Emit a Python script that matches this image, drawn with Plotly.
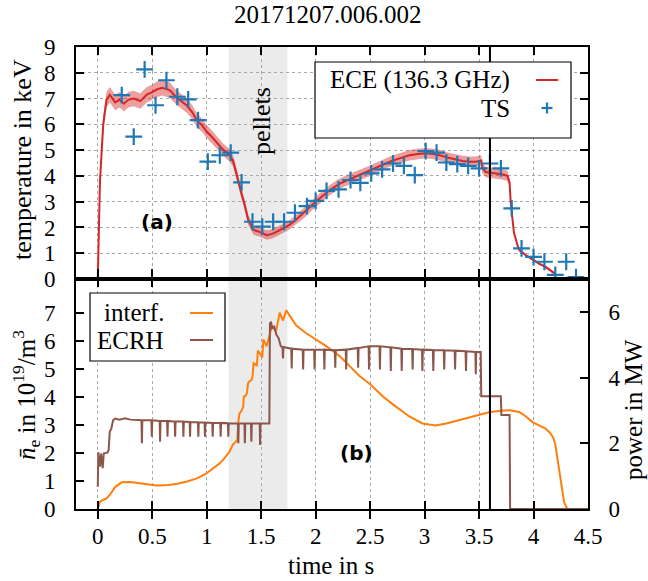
import plotly.graph_objects as go

# ---------------- data ----------------
title_text = "20171207.006.002"

ece_t = [0.0, 0.02, 0.05, 0.08, 0.11, 0.16, 0.2, 0.24, 0.28, 0.33,
         0.39, 0.45, 0.5, 0.54, 0.59, 0.66, 0.72, 0.78, 0.82, 0.87,
         0.91, 0.96, 1.0, 1.05, 1.09, 1.15, 1.21, 1.24, 1.26, 1.29,
         1.32, 1.35, 1.38, 1.43, 1.49, 1.55, 1.6, 1.64, 1.7, 1.76,
         1.82, 1.89, 1.95, 2.0, 2.07, 2.13, 2.22, 2.31, 2.4, 2.5,
         2.59, 2.68, 2.77, 2.86, 2.94, 3.01, 3.08, 3.14, 3.22, 3.29,
         3.35, 3.41, 3.47, 3.52, 3.53, 3.56, 3.61, 3.66, 3.72, 3.76,
         3.78, 3.79, 3.81, 3.82, 3.85, 3.87, 3.93, 3.99, 4.05, 4.11,
         4.16, 4.2]
ece_v = [0.0, 3.8, 6.0, 6.95, 7.15, 6.85, 6.95, 6.8, 6.95, 7.0,
         6.9, 7.15, 7.25, 7.35, 7.42, 7.33, 7.05, 6.85, 6.72, 6.45,
         6.15, 5.95, 5.72, 5.5, 5.3, 5.02, 4.8, 4.6, 4.3, 3.75,
         3.3, 2.85, 2.3, 1.9, 1.82, 1.7, 1.75, 1.83, 1.95, 2.1,
         2.3, 2.55, 2.8, 3.0, 3.25, 3.45, 3.7, 3.87, 4.02, 4.2,
         4.38, 4.55, 4.68, 4.8, 4.85, 4.88, 4.85, 4.8, 4.7, 4.62,
         4.58, 4.55, 4.55, 4.6, 4.3, 4.15, 4.12, 4.1, 4.05, 4.0,
         3.75, 3.0, 2.2, 1.8, 1.35, 1.12, 0.92, 0.75, 0.6, 0.47,
         0.33, 0.2]
ece_err = [0.0, 0.2, 0.3, 0.3, 0.3, 0.3, 0.3, 0.3, 0.3, 0.3,
           0.3, 0.3, 0.3, 0.3, 0.3, 0.3, 0.28, 0.28, 0.28, 0.27,
           0.27, 0.26, 0.25, 0.25, 0.25, 0.24, 0.24, 0.22, 0.22, 0.2,
           0.2, 0.2, 0.2, 0.18, 0.18, 0.18, 0.18, 0.18, 0.18, 0.18,
           0.18, 0.2, 0.2, 0.2, 0.2, 0.2, 0.2, 0.2, 0.2, 0.2,
           0.2, 0.2, 0.2, 0.2, 0.2, 0.2, 0.2, 0.2, 0.2, 0.2,
           0.2, 0.2, 0.2, 0.2, 0.2, 0.2, 0.2, 0.2, 0.2, 0.2,
           0.15, 0.1, 0.08, 0.06, 0.05, 0.05, 0.05, 0.05, 0.05, 0.05,
           0.05, 0.05]

ts_t = [0.22, 0.33, 0.43, 0.53, 0.63, 0.73, 0.83, 0.92, 1.01, 1.12,
        1.22, 1.32, 1.42, 1.51, 1.61, 1.71, 1.81, 1.92, 2.0, 2.1,
        2.21, 2.32, 2.41, 2.51, 2.61, 2.71, 2.81, 2.91, 3.01, 3.11,
        3.2, 3.3, 3.4, 3.5, 3.6, 3.7, 3.8, 3.89, 4.0, 4.1,
        4.2, 4.3, 4.39]
ts_v = [7.13, 5.52, 8.13, 6.74, 7.71, 7.07, 6.97, 6.16, 4.55, 4.8,
        4.9, 3.75, 2.22, 2.03, 2.22, 2.22, 2.57, 2.83, 3.03, 3.42,
        3.48, 3.84, 3.73, 4.1, 4.25, 4.48, 4.39, 4.03, 4.96, 4.9,
        4.52, 4.46, 4.39, 4.29, 4.48, 4.29, 2.74, 1.19, 0.86, 0.67,
        0.16, 0.67, 0.07]

ne_t = [0.0, 0.02, 0.05, 0.08, 0.11, 0.16, 0.22, 0.3, 0.42, 0.54,
        0.65, 0.73, 0.82, 0.91, 0.99, 1.06, 1.11, 1.15, 1.19, 1.21,
        1.24, 1.27, 1.28, 1.29, 1.3, 1.32, 1.335, 1.34, 1.36, 1.37,
        1.38, 1.39, 1.41, 1.42, 1.43, 1.45, 1.46, 1.47, 1.49, 1.51,
        1.52, 1.54, 1.55, 1.57, 1.6, 1.63, 1.64, 1.67, 1.69, 1.70,
        1.73, 1.77, 1.82, 1.9, 2.0, 2.1, 2.22, 2.31, 2.4, 2.5,
        2.62, 2.74, 2.86, 2.98, 3.1, 3.2, 3.29, 3.38, 3.47, 3.6,
        3.7, 3.78, 3.87, 3.93, 3.99, 4.05, 4.11, 4.15, 4.18, 4.2,
        4.22, 4.24, 4.26, 4.28, 4.31, 4.4, 4.5]
ne_v = [0.0, 0.26, 0.33, 0.38, 0.5, 0.79, 0.95, 0.96, 0.9, 0.84,
        0.86, 0.9, 0.98, 1.09, 1.25, 1.45, 1.6, 1.75, 1.95, 2.05,
        2.3, 2.4, 2.45, 3.1, 3.4, 3.5, 3.65, 4.0, 4.05, 4.15,
        4.5, 4.55, 4.6, 4.7, 5.2, 5.15, 5.1, 5.65, 5.5, 5.4,
        6.05, 5.9, 5.8, 6.1, 6.55, 6.35, 6.4, 7.0, 6.8, 6.72,
        7.08, 6.85, 6.55, 6.3, 6.05, 5.8, 5.45, 5.1, 4.75, 4.45,
        4.0, 3.64, 3.3, 3.05, 2.98, 3.05, 3.14, 3.25, 3.34, 3.46,
        3.5, 3.52, 3.46, 3.3, 3.1, 2.98, 2.87, 2.72, 2.55, 2.3,
        1.8, 1.2, 0.65, 0.25, 0.0, 0.0, 0.0]

ecrh_t = [0.0, 0.005, 0.02, 0.03, 0.045, 0.055, 0.09, 0.1, 0.11, 0.125,
          0.14, 0.16, 0.2, 0.25, 0.3, 0.36,
          0.401, 0.405, 0.409, 0.492, 0.496, 0.5, 0.568, 0.572, 0.576,
          0.636, 0.64, 0.644, 0.706, 0.71, 0.714, 0.782, 0.786, 0.79,
          0.843, 0.847, 0.851, 0.919, 0.923, 0.927, 0.98, 0.984, 0.988,
          1.051, 1.055, 1.059, 1.124, 1.128, 1.132, 1.194, 1.198, 1.202,
          1.286, 1.29, 1.294, 1.346, 1.35, 1.354, 1.406, 1.41, 1.414,
          1.486, 1.49, 1.494,
          1.575, 1.58, 1.59, 1.6, 1.62, 1.64, 1.66, 1.68,
          1.696, 1.70, 1.704, 1.776, 1.78, 1.784, 1.881, 1.885, 1.889,
          1.986, 1.99, 1.994, 2.076, 2.08, 2.084, 2.176, 2.18, 2.184,
          2.276, 2.28, 2.284, 2.386, 2.39, 2.394, 2.486, 2.49, 2.494,
          2.586, 2.59, 2.594, 2.686, 2.69, 2.694, 2.786, 2.79, 2.794,
          2.886, 2.89, 2.894, 2.976, 2.98, 2.984, 3.076, 3.08, 3.084,
          3.176, 3.18, 3.184, 3.276, 3.28, 3.284, 3.376, 3.38, 3.384,
          3.466, 3.47, 3.474,
          3.515, 3.52, 3.70, 3.705, 3.78, 3.785, 4.5]
ecrh_p = [0.68, 1.73, 1.29, 1.69, 1.24, 1.69, 1.72, 1.8, 2.35, 2.45,
          2.7, 2.75, 2.72, 2.76, 2.72, 2.72,
          2.7, 2.0, 2.7, 2.7, 2.2, 2.7, 2.68, 2.05, 2.68,
          2.68, 2.2, 2.68, 2.66, 2.2, 2.66, 2.66, 2.2, 2.66,
          2.65, 2.2, 2.65, 2.64, 2.2, 2.64, 2.63, 2.2, 2.63,
          2.62, 2.2, 2.62, 2.62, 2.2, 2.62, 2.61, 2.2, 2.61,
          2.6, 2.0, 2.6, 2.6, 2.0, 2.6, 2.6, 2.05, 2.6,
          2.6, 1.95, 2.6,
          2.6, 5.64, 5.7, 5.5, 5.55, 5.3, 5.2, 4.95,
          4.93, 4.58, 4.93, 4.88, 4.28, 4.88, 4.85, 4.25, 4.85,
          4.85, 4.25, 4.85, 4.85, 4.25, 4.85, 4.83, 4.3, 4.83,
          4.85, 4.25, 4.85, 4.9, 4.3, 4.9, 4.95, 4.25, 4.95,
          4.95, 4.25, 4.95, 4.92, 4.2, 4.92, 4.88, 4.2, 4.88,
          4.87, 4.25, 4.87, 4.85, 4.2, 4.85, 4.84, 4.2, 4.84,
          4.83, 4.25, 4.83, 4.82, 4.25, 4.82, 4.8, 4.2, 4.8,
          4.78, 4.1, 4.78,
          4.78, 3.43, 3.43, 2.86, 2.86, 0.0, 0.0]

x_ticks = [0, 0.5, 1, 1.5, 2, 2.5, 3, 3.5, 4, 4.5]
x_tick_labels = ["0", "0.5", "1", "1.5", "2", "2.5", "3", "3.5", "4", "4.5"]
te_ticks = [0, 1, 2, 3, 4, 5, 6, 7, 8, 9]
ne_ticks = [0, 1, 2, 3, 4, 5, 6, 7]
p_ticks = [0, 2, 4, 6]
pellet_window = [1.2, 1.74]
marker_time = 3.6

assert len(ece_t) == len(ece_v) == len(ece_err)
assert len(ts_t) == len(ts_v)
assert len(ne_t) == len(ne_v)
assert len(ecrh_t) == len(ecrh_p)

# ---------------- layout geometry ----------------
W, H = 648, 581
L, R, T, B = 76, 60, 47, 72
PW, PH = W - L - R, H - T - B
split = (509 - 279) / PH


def pxx(xp):
    return (xp - L) / PW


def pxy(yp):
    return (H - B - yp) / PH


FONT = "Liberation Serif, Times New Roman, DejaVu Serif, serif"
RED, BLUE, ORANGE, BROWN = "#d62728", "#1f77b4", "#ff7f0e", "#8c564b"

fig = go.Figure()

ece_hi = [v + e for v, e in zip(ece_v, ece_err)]
ece_lo = [v - e for v, e in zip(ece_v, ece_err)]
fig.add_trace(go.Scatter(x=ece_t, y=ece_hi, mode="lines", line=dict(width=0),
                         showlegend=False, hoverinfo="skip", xaxis="x", yaxis="y"))
fig.add_trace(go.Scatter(x=ece_t, y=ece_lo, mode="lines", line=dict(width=0),
                         fill="tonexty", fillcolor="rgba(214,39,40,0.45)",
                         showlegend=False, hoverinfo="skip", xaxis="x", yaxis="y"))
fig.add_trace(go.Scatter(x=ece_t, y=ece_v, mode="lines", line=dict(color=RED, width=2),
                         name="ECE (136.3 GHz)", showlegend=False, xaxis="x", yaxis="y"))
fig.add_trace(go.Scatter(x=ts_t, y=ts_v, mode="markers", name="TS", showlegend=False,
                         marker=dict(symbol="cross-thin", size=12,
                                     line=dict(color=BLUE, width=2.2), color=BLUE),
                         xaxis="x", yaxis="y"))
fig.add_trace(go.Scatter(x=ecrh_t, y=ecrh_p, mode="lines", name="ECRH", showlegend=False,
                         line=dict(color=BROWN, width=2), xaxis="x2", yaxis="y3"))
fig.add_trace(go.Scatter(x=ne_t, y=ne_v, mode="lines", name="interf.", showlegend=False,
                         line=dict(color=ORANGE, width=2), xaxis="x2", yaxis="y2"))

tickfont = dict(family=FONT, size=23, color="black")
common_x = dict(range=[-0.2, 4.5], tickvals=x_ticks, ticks="inside", ticklen=8,
                tickwidth=1.5, tickcolor="black", showline=True, linecolor="black",
                linewidth=2, mirror="allticks", showgrid=True, gridcolor="#a8a8a8",
                griddash="dot", gridwidth=1, zeroline=False, tickfont=tickfont,
                automargin=False)

fig.update_layout(
    template="none",
    width=W, height=H, margin=dict(l=L, r=R, t=T, b=B, pad=0),
    paper_bgcolor="white", plot_bgcolor="white", showlegend=False,
    xaxis=dict(domain=[0, 1], anchor="y", showticklabels=False, **common_x),
    xaxis2=dict(domain=[0, 1], anchor="y2", matches="x", ticktext=x_tick_labels,
                ticklabelstandoff=5, **common_x),
    yaxis=dict(domain=[split, 1], anchor="x", range=[0, 9], tickvals=te_ticks,
               ticks="inside", ticklen=8, tickwidth=1.5, tickcolor="black",
               showline=True, linecolor="black", linewidth=2, mirror="allticks",
               showgrid=True, gridcolor="#a8a8a8", griddash="dot", gridwidth=1,
               zeroline=False, tickfont=tickfont, ticklabelstandoff=14, automargin=False),
    yaxis2=dict(domain=[0, split], anchor="x2", range=[0, 8.2], tickvals=ne_ticks,
                ticks="inside", ticklen=8, tickwidth=1.5, tickcolor="black",
                showline=True, linecolor="black", linewidth=2, mirror=False,
                showgrid=False, zeroline=False, tickfont=tickfont, ticklabelstandoff=14,
                automargin=False),
    yaxis3=dict(domain=[0, split], anchor="x2", overlaying="y2", side="right",
                range=[0, 7], tickvals=p_ticks, ticks="inside", ticklen=8,
                tickwidth=1.5, tickcolor="black", showline=True, linecolor="black",
                linewidth=2, showgrid=False, zeroline=False, tickfont=tickfont,
                ticklabelstandoff=14, automargin=False),
)

shapes = []
shapes.append(dict(type="rect", xref="x", yref="paper", x0=pellet_window[0],
                   x1=pellet_window[1], y0=0, y1=1, fillcolor="#ebebeb",
                   line=dict(width=0), layer="below"))
shapes.append(dict(type="line", xref="x", yref="paper", x0=marker_time, x1=marker_time,
                   y0=0, y1=1, line=dict(color="black", width=2), layer="above"))
shapes.append(dict(type="rect", xref="paper", yref="paper", x0=pxx(315), x1=pxx(571),
                   y0=pxy(138), y1=pxy(62), fillcolor="white",
                   line=dict(color="black", width=1.2), layer="above"))
shapes.append(dict(type="line", xref="paper", yref="paper", x0=pxx(536), x1=pxx(558),
                   y0=pxy(80), y1=pxy(80), line=dict(color=RED, width=2), layer="above"))
shapes.append(dict(type="line", xref="paper", yref="paper", x0=pxx(541.5), x1=pxx(552.5),
                   y0=pxy(108), y1=pxy(108), line=dict(color=BLUE, width=2.2), layer="above"))
shapes.append(dict(type="line", xref="paper", yref="paper", x0=pxx(547), x1=pxx(547),
                   y0=pxy(102.5), y1=pxy(113.5), line=dict(color=BLUE, width=2.2), layer="above"))
shapes.append(dict(type="rect", xref="paper", yref="paper", x0=pxx(90), x1=pxx(225),
                   y0=pxy(361), y1=pxy(293), fillcolor="white",
                   line=dict(color="black", width=1.2), layer="above"))
shapes.append(dict(type="line", xref="paper", yref="paper", x0=pxx(190), x1=pxx(213),
                   y0=pxy(313), y1=pxy(313), line=dict(color=ORANGE, width=2), layer="above"))
shapes.append(dict(type="line", xref="paper", yref="paper", x0=pxx(190), x1=pxx(213),
                   y0=pxy(340), y1=pxy(340), line=dict(color=BROWN, width=2), layer="above"))
fig.update_layout(shapes=shapes)


def ann(text, xp, yp, size=25, xanchor="center", angle=0, family=FONT):
    return dict(text=text, xref="paper", yref="paper", x=pxx(xp), y=pxy(yp),
                xanchor=xanchor, yanchor="middle", showarrow=False, textangle=angle,
                font=dict(family=family, size=size, color="black"))


annotations = [
    ann(title_text, 327.5, 15, size=25),
    ann("time in s", 331, 565, size=25),
    ann("temperature in keV", 22, 160, size=26, angle=-90),
    ann("<i>n̄</i><sub>e</sub> in 10<sup>19</sup>/m<sup>3</sup>", 26, 395, size=25, angle=-90),
    ann("power in MW", 633, 410, size=25, angle=-90),
    ann("pellets", 261, 121, size=26, angle=-90),
    ann("<b>(a)</b>", 157, 222, size=20, family="DejaVu Sans"),
    ann("<b>(b)</b>", 356, 453, size=20, family="DejaVu Sans"),
    ann("ECE (136.3 GHz)", 512, 80, size=25, xanchor="right"),
    ann("TS", 512, 108, size=25, xanchor="right"),
    ann("interf.", 166, 313, size=25, xanchor="right"),
    ann("ECRH", 166, 340, size=25, xanchor="right"),
]
fig.update_layout(annotations=annotations)

fig.write_html("out.html", config={"displayModeBar": False},
               post_script="document.body.style.margin='0px';")
